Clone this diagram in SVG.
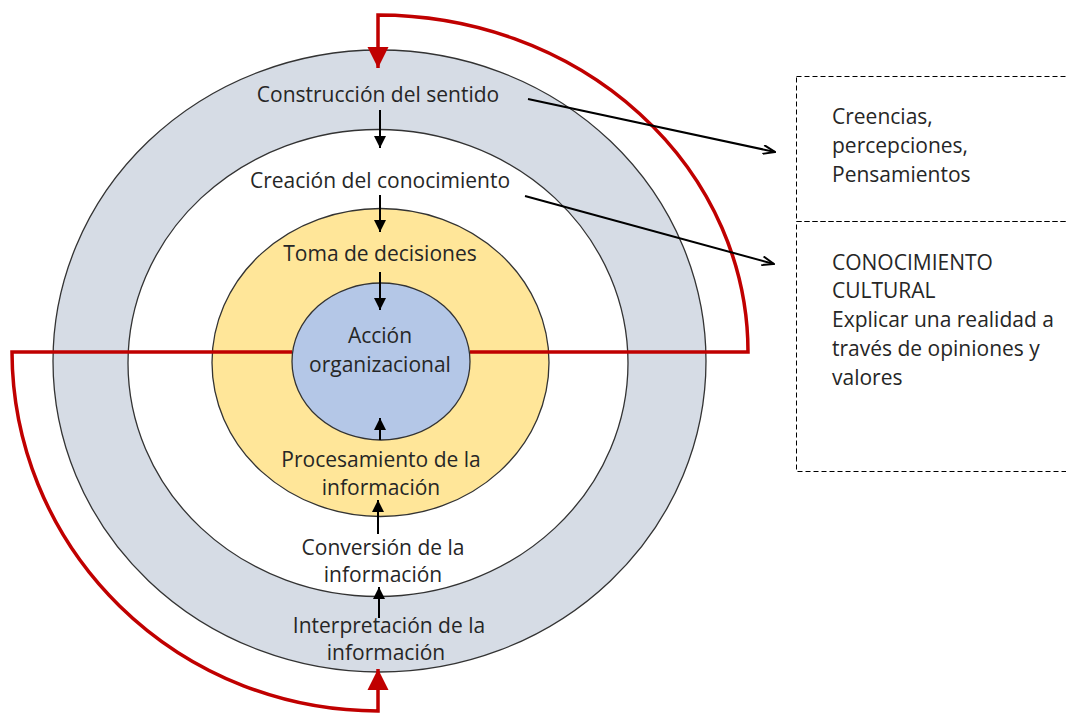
<svg xmlns="http://www.w3.org/2000/svg" width="1066" height="713" viewBox="0 0 1066 713">
<defs>
<style>
.ring{stroke:#333;stroke-width:1.3}
.t{font-family:"Open Sans","Liberation Sans",sans-serif;font-size:21px;fill:#262626}
.c{text-anchor:middle}
.blk{stroke:#000;stroke-width:2;fill:none}
.red{stroke:#C00000;stroke-width:3.5;fill:none}
.dash{stroke:#000;stroke-width:1;stroke-dasharray:5,3;fill:none}
</style>
<marker id="ab" viewBox="0 0 10 10" refX="10" refY="5" markerWidth="12" markerHeight="12" markerUnits="userSpaceOnUse" orient="auto">
<path d="M0,0 L10,5 L0,10 z" fill="#000"/>
</marker>
<marker id="ao" viewBox="0 0 14 10" refX="13" refY="5" markerWidth="14" markerHeight="10" markerUnits="userSpaceOnUse" orient="auto">
<path d="M1,0.5 L13,5 L1,9.5" fill="none" stroke="#000" stroke-width="2"/>
</marker>
<marker id="ar" viewBox="0 0 22 22" refX="22" refY="11" markerWidth="21" markerHeight="22" markerUnits="userSpaceOnUse" orient="auto">
<path d="M0,0 L22,11 L0,22 z" fill="#C00000"/>
</marker>
</defs>
<rect width="1066" height="713" fill="#fff"/>
<g id="ring-sentido"><ellipse class="ring" cx="379.5" cy="361" rx="326.5" ry="311" fill="#D6DCE5"/></g>
<g id="ring-conocimiento"><ellipse class="ring" cx="378" cy="363" rx="250" ry="233.5" fill="#fff"/></g>
<g id="ring-decisiones"><ellipse class="ring" cx="380.5" cy="362.5" rx="168.5" ry="154" fill="#FFE699"/></g>
<g id="connectors">
<path class="red" d="M292,352 H12 A366,360 0 0 0 378,711 V669" marker-end="url(#ar)"/>
<path class="red" d="M470,352 H748 A370,337 0 0 0 378,15 V68" marker-end="url(#ar)"/>
</g>
<g id="core-accion"><ellipse class="ring" cx="381" cy="361.5" rx="89" ry="78.5" fill="#B4C7E7"/></g>
<g id="arrows">
<line class="blk" x1="380" y1="110" x2="380" y2="148" marker-end="url(#ab)"/>
<line class="blk" x1="380" y1="195" x2="380" y2="232" marker-end="url(#ab)"/>
<line class="blk" x1="380" y1="272" x2="380" y2="310" marker-end="url(#ab)"/>
<line class="blk" x1="380" y1="440" x2="380" y2="418" marker-end="url(#ab)"/>
<line class="blk" x1="378" y1="534" x2="378" y2="500" marker-end="url(#ab)"/>
<line class="blk" x1="379" y1="618" x2="379" y2="587" marker-end="url(#ab)"/>
<line class="blk" x1="528" y1="99" x2="775" y2="152" marker-end="url(#ao)"/>
<line class="blk" x1="525" y1="196" x2="774" y2="264" marker-end="url(#ao)"/>
</g>
<g id="labels">
<text class="t c" x="378" y="102">Construcción del sentido</text>
<text class="t c" x="380" y="188">Creación del conocimiento</text>
<text class="t c" x="380" y="261">Toma de decisiones</text>
<text class="t c" x="380" y="343">Acción</text>
<text class="t c" x="380" y="372">organizacional</text>
<text class="t c" x="381" y="467">Procesamiento de la</text>
<text class="t c" x="381" y="495">información</text>
<text class="t c" x="383" y="555">Conversión de la</text>
<text class="t c" x="383" y="582">información</text>
<text class="t c" x="389" y="633">Interpretación de la</text>
<text class="t c" x="386" y="660">información</text>
</g>
<g id="box-creencias">
<rect class="dash" x="796.5" y="76.5" width="290" height="145"/>
<text class="t" x="832" y="124">Creencias,</text>
<text class="t" x="832" y="153">percepciones,</text>
<text class="t" x="832" y="182">Pensamientos</text>
</g>
<g id="box-cultural">
<rect class="dash" x="796.5" y="221.5" width="290" height="250"/>
<text class="t" x="832" y="270">CONOCIMIENTO</text>
<text class="t" x="832" y="298">CULTURAL</text>
<text class="t" x="832" y="327">Explicar una realidad a</text>
<text class="t" x="832" y="356">través de opiniones y</text>
<text class="t" x="832" y="385">valores</text>
</g>
</svg>
